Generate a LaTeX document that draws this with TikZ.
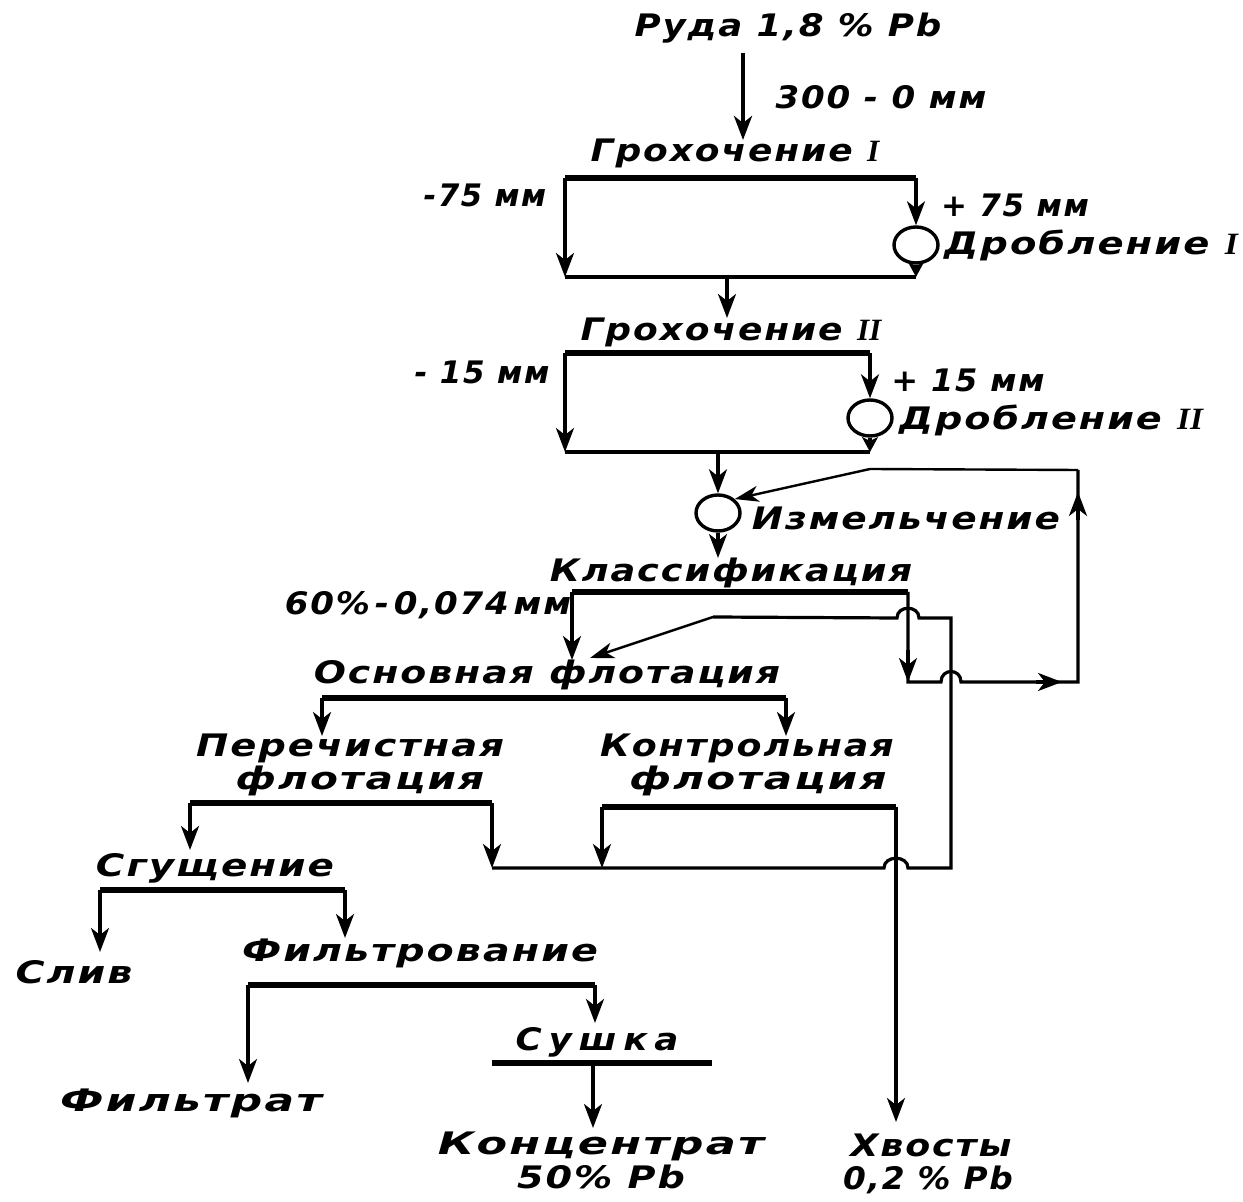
\documentclass[tikz,border=0pt]{standalone}
\usepackage{fontspec}
\newfontfamily\gf{DejaVu Sans}[FakeStretch=1.15,LetterSpace=6]
\newfontfamily\rf{Liberation Serif}
\usetikzlibrary{arrows.meta,shapes.geometric}
\newcommand\RomI{{\rf\bfseries\itshape I}}
\newcommand\RomII{{\rf\bfseries\itshape II}}
\newcommand\sx[2]{\scalebox{#1}[1]{#2}}
\begin{document}
\begin{tikzpicture}[x=0.5pt,y=-0.5pt,
  lbl/.style={font=\gf\bfseries\itshape\fontsize{15.5}{18}\selectfont, inner sep=0pt},
  ln/.style={line width=1.6pt},
  thn/.style={line width=1.2pt},
  tk/.style={line width=2.6pt},
  arr/.style={line width=1.6pt,-{Stealth[length=12pt,width=9pt,inset=3.5pt]}},
  sarr/.style={line width=1.6pt,-{Stealth[length=7.5pt,width=8pt,inset=2pt]}},
  tarr/.style={line width=1.2pt,-{Stealth[length=12pt,width=8pt,inset=3.5pt]}},
  mill/.style={ellipse, draw, line width=1.7pt, minimum width=22pt, minimum height=18pt, inner sep=0pt}
]
\useasboundingbox (0,0) rectangle (1243,1202);
\fill[white] (0,0) rectangle (1243,1202);

% --- top
\node[lbl] (ruda) at (788,28) {\sx{1.0}{Руда 1,8 \% Pb}};
\node[lbl] (t300) at (881,97) {\sx{0.955}{300 - 0 мм}};
\coordinate (a0) at (743,53);
\coordinate (a1) at (743,140);
\draw[arr,line width=2.2pt] (a0) -- (a1);

% --- screening I
\node[lbl] (g1) at (735,153) {\sx{1.01}{Грохочение \RomI}};
\node[lbl] (m75) at (485,195) {\sx{0.86}{-75 мм}};
\node[lbl] (p75) at (1015,205) {\sx{0.87}{+ 75 мм}};
\node[mill] (c1) at (916,245) {};
\node[lbl] (d1) at (1091,245) {\sx{1.08}{Дробление \RomI}};
\coordinate (g1a) at (565,178); \coordinate (g1b) at (916,178);
\coordinate (g1c) at (565,277); \coordinate (g1d) at (916,277);
\draw[tk] (g1a) -- (g1b);
\draw[ln] (g1c) -- (g1d);
\draw[arr] (g1a) -- (g1c);
\draw[arr] (g1b) -- (c1.north);
\draw[sarr] (c1.south) -- (g1d);
\coordinate (o1) at (727,277); \coordinate (o1e) at (727,318);
\draw[arr] (o1) -- (o1e);

% --- screening II
\node[lbl] (g2) at (731,332) {\sx{1.01}{Грохочение \RomII}};
\node[lbl] (m15) at (482,372) {\sx{0.87}{- 15 мм}};
\node[lbl] (p15) at (968,380) {\sx{0.9}{+ 15 мм}};
\node[mill] (c2) at (870,418) {};
\node[lbl] (d2) at (1051,420) {\sx{1.07}{Дробление \RomII}};
\coordinate (g2a) at (565,353); \coordinate (g2b) at (870,353);
\coordinate (g2c) at (565,452); \coordinate (g2d) at (870,452);
\draw[tk] (g2a) -- (g2b);
\draw[ln] (g2c) -- (g2d);
\draw[arr] (g2a) -- (g2c);
\draw[arr] (g2b) -- (c2.north);
\draw[sarr] (c2.south) -- (g2d);

% --- grinding
\node[mill] (c3) at (718,513) {};
\node[lbl] (izm) at (906,518) {\sx{1.05}{Измельчение}};
\coordinate (o2) at (718,452);
\draw[arr] (o2) -- (c3.north);

% --- classification
\node[lbl] (kl) at (731,573) {\sx{1.03}{Классификация}};
\coordinate (kle) at (718,558);
\draw[arr] (c3.south) -- (kle);
\node[lbl] (ov) at (428,605) {\sx{0.955}{60\%\,-\,0,074\,мм}};
\coordinate (ka) at (572,592); \coordinate (kb) at (908,592);
\draw[tk] (ka) -- (kb);
\coordinate (kae) at (572,660);
\draw[arr] (ka) -- (kae);
% sands back to grinding
\coordinate (s1) at (908,682); \coordinate (s2) at (1078,682);
\coordinate (s3) at (1078,470); \coordinate (s4) at (870,469);
\draw[ln] (kb) -- (s1) -- (941,682) .. controls (941,668) and (961,668) .. (961,682) -- (s2) -- (s3);
\draw[thn] (s3) -- (s4);
\draw[tarr] (s4) -- (c3.north east);
\coordinate (h1) at (908,650); \draw[arr] (h1) -- (s1);
\coordinate (h2) at (1036,682); \coordinate (h2e) at (1062,682); \draw[arr] (h2) -- (h2e);
\coordinate (h3) at (1078,520); \coordinate (h3e) at (1078,492); \draw[arr] (h3) -- (h3e);

% --- rougher flotation
\node[lbl] (osn) at (547,675) {\sx{1.06}{Основная флотация}};
\coordinate (oa) at (322,698); \coordinate (ob) at (786,698);
\draw[tk] (oa) -- (ob);
\coordinate (oae) at (322,736); \coordinate (obe) at (786,736);
\draw[arr] (oa) -- (oae);
\draw[arr] (ob) -- (obe);

% --- cleaner / scavenger
\node[lbl] (per) at (350,748) {\sx{1.08}{Перечистная}};
\node[lbl] (per2) at (360,781) {\sx{1.14}{флотация}};
\node[lbl] (kon) at (747,748) {\sx{1.02}{Контрольная}};
\node[lbl] (kon2) at (758,781) {\sx{1.18}{флотация}};
\coordinate (pa) at (190,803); \coordinate (pb) at (492,803);
\coordinate (pae) at (190,850); \coordinate (pbe) at (492,868);
\draw[tk] (pa) -- (pb);
\draw[arr] (pa) -- (pae);
\draw[arr] (pb) -- (pbe);
\coordinate (ca) at (602,807); \coordinate (cb) at (896,807);
\coordinate (cae) at (602,868); \coordinate (cbe) at (896,1122);
\draw[tk] (ca) -- (cb);
\draw[arr] (ca) -- (cae);
\draw[arr] (cb) -- (cbe);
% middlings return to rougher
\coordinate (r1) at (951,868); \coordinate (r2) at (951,618); \coordinate (r3) at (713,617);
\coordinate (r4) at (590,658);
\draw[ln] (pbe) -- (884,868) .. controls (884,855) and (908,855) .. (908,868) -- (r1) -- (r2)
  -- (919,618) .. controls (919,605) and (897,605) .. (897,618) -- (r3);
\draw[tarr] (r3) -- (r4);

% --- thickening, filtering, drying
\node[lbl] (sg) at (215,868) {\sx{1.09}{Сгущение}};
\coordinate (sa) at (100,890); \coordinate (sb) at (345,890);
\coordinate (sae) at (100,952); \coordinate (sbe) at (345,938);
\draw[tk] (sa) -- (sb);
\draw[arr] (sa) -- (sae);
\draw[arr] (sb) -- (sbe);
\node[lbl] (sliv) at (74,972) {\sx{1.11}{Слив}};
\node[lbl] (fil) at (420,953) {\sx{1.11}{Фильтрование}};
\coordinate (fa) at (248,985); \coordinate (fb) at (595,985);
\coordinate (fae) at (248,1083); \coordinate (fbe) at (595,1023);
\draw[tk] (fa) -- (fb);
\draw[arr] (fa) -- (fae);
\draw[arr] (fb) -- (fbe);
\node[lbl] (filt) at (191,1103) {\sx{1.23}{Фильтрат}};
\node[lbl] (sush) at (597,1042) {\addfontfeatures{LetterSpace=22}Сушка};
\coordinate (u1) at (492,1063); \coordinate (u2) at (712,1063);
\draw[tk] (u1) -- (u2);
\coordinate (um) at (593,1063); \coordinate (ume) at (593,1128);
\draw[arr] (um) -- (ume);
\node[lbl] (konc) at (601,1146) {\sx{1.25}{Концентрат}};
\node[lbl] (konc2) at (601,1177) {\sx{1.07}{50\% Pb}};
\node[lbl] (xv) at (931,1145) {\sx{1.02}{Хвосты}};
\node[lbl] (xv2) at (928,1180) {\sx{0.92}{0,2 \% Pb}};
\end{tikzpicture}
\end{document}
